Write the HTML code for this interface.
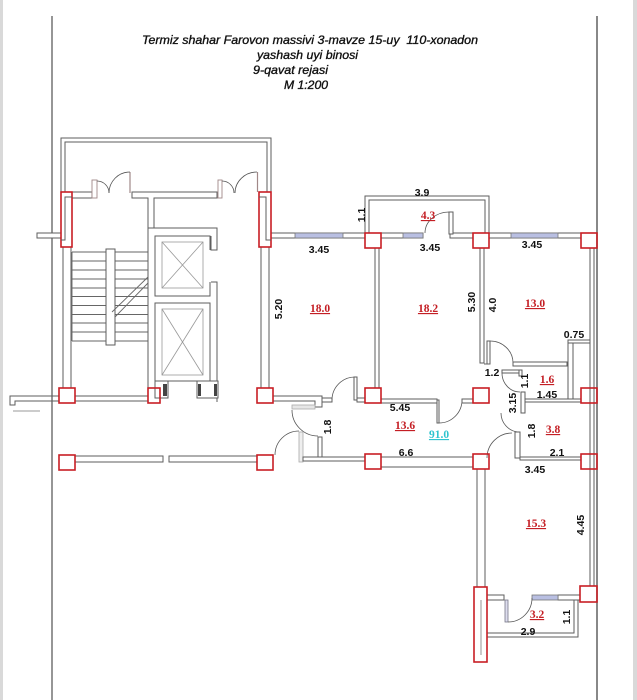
<!DOCTYPE html>
<html><head><meta charset="utf-8"><style>
html,body{margin:0;padding:0;background:#fff;}
svg{display:block;}
.w{fill:#fff;stroke:#5e5e5e;stroke-width:1;}
.l{fill:none;stroke:#5e5e5e;stroke-width:1;}
.a{fill:none;stroke:#555;stroke-width:0.8;}
.p{fill:none;stroke:#c81e24;stroke-width:1.6;}
.win{fill:#b9bfe2;stroke:#777;stroke-width:0.8;}
.t{font-family:"Liberation Sans",Arial,sans-serif;font-weight:bold;font-size:10.5px;fill:#111;text-anchor:middle;}
.r{font-family:"Liberation Serif","Times New Roman",serif;font-weight:bold;font-size:11.5px;fill:#c41e24;text-anchor:middle;text-decoration:underline;}
.c{font-family:"Liberation Serif","Times New Roman",serif;font-weight:bold;font-size:11.5px;fill:#2fc4cf;text-anchor:middle;text-decoration:underline;}
.h{font-family:"Liberation Sans",Arial,sans-serif;font-style:italic;font-size:12px;fill:#111;stroke:#111;stroke-width:0.35;}
</style></head><body>
<svg width="637" height="700" viewBox="0 0 637 700" xmlns="http://www.w3.org/2000/svg">
<rect width="637" height="700" fill="#fff"/>
<rect x="0" y="0" width="3" height="700" fill="#d9d9d9"/>
<rect x="633" y="0" width="4" height="700" fill="#d9d9d9"/>
<line x1="52" y1="16" x2="52" y2="700" stroke="#6a6a6a" stroke-width="1.4"/>
<line x1="597" y1="16" x2="597" y2="700" stroke="#6a6a6a" stroke-width="1.6"/>

<!-- title -->
<text class="h" x="142" y="44" textLength="336" lengthAdjust="spacingAndGlyphs" xml:space="preserve">Termiz shahar Farovon massivi 3-mavze 15-uy  110-xonadon</text>
<text class="h" x="257" y="59" textLength="101" lengthAdjust="spacingAndGlyphs">yashash uyi binosi</text>
<text class="h" x="253" y="74" textLength="75" lengthAdjust="spacingAndGlyphs">9-qavat rejasi</text>
<text class="h" x="284" y="89" textLength="44" lengthAdjust="spacingAndGlyphs">M 1:200</text>

<!-- porch -->
<path class="l" d="M61,192 V138 H271 V192"/>
<path class="l" d="M65,192 V142 H267 V192"/>
<rect class="w" x="72" y="192" width="20" height="6"/>
<rect x="92" y="180" width="5" height="18" fill="#fff" stroke="#a08888" stroke-width="0.9"/>
<path class="w" d="M132,192 H217 V198 H154 V228 H148 V198 H132 Z"/>
<rect x="218" y="180" width="4" height="18" fill="#fff" stroke="#a08888" stroke-width="0.9"/>
<line x1="130" y1="172" x2="130" y2="193" stroke="#a08888" stroke-width="1.2"/>
<line x1="257.5" y1="172" x2="257.5" y2="192" stroke="#a08888" stroke-width="1.2"/>
<path class="a" d="M97,181 A12,12 0 0 1 109,193"/>
<path class="a" d="M130,172 A21,21 0 0 0 109,193"/>
<path class="a" d="M222,181 A12,12 0 0 1 234,193"/>
<path class="a" d="M257,172 A22,21 0 0 0 235,193"/>

<!-- stair walls -->
<rect class="w" x="63" y="247" width="8" height="141"/>
<rect class="w" x="261" y="247" width="8" height="141"/>
<rect class="w" x="37" y="233" width="24" height="5"/>

<!-- stairs -->
<g stroke="#666" stroke-width="0.9">
<line x1="72" y1="252" x2="148" y2="252"/>
<line x1="72" y1="261" x2="148" y2="261"/>
<line x1="72" y1="270" x2="148" y2="270"/>
<line x1="72" y1="279" x2="148" y2="279"/>
<line x1="72" y1="288" x2="148" y2="288"/>
<line x1="72" y1="296.5" x2="148" y2="296.5"/>
<line x1="72" y1="305.5" x2="148" y2="305.5"/>
<line x1="72" y1="314.5" x2="148" y2="314.5"/>
<line x1="72" y1="323" x2="148" y2="323"/>
<line x1="72" y1="332" x2="148" y2="332"/>
<line x1="72" y1="341" x2="148" y2="341"/>
<line x1="72" y1="252" x2="72" y2="341"/>
</g>
<rect class="w" x="106" y="249" width="9" height="96"/>
<line x1="112" y1="312" x2="148" y2="277" stroke="#666" stroke-width="0.9"/>
<line x1="115" y1="317" x2="148" y2="283" stroke="#666" stroke-width="0.9"/>

<!-- elevator shaft -->
<path class="l" d="M148,402 V228 H217 V250 H211 V236"/>
<path class="l" d="M211,282 H217 V402"/>
<path class="l" d="M210,250 V236 H155 V296 H210 V282"/>
<rect class="l" x="155" y="303" width="55" height="78"/>
<g stroke="#999" stroke-width="0.8" fill="none">
<rect x="162" y="242" width="41" height="46"/>
<line x1="162" y1="242" x2="203" y2="288"/><line x1="203" y1="242" x2="162" y2="288"/>
<rect x="162" y="309" width="41" height="66"/>
<line x1="162" y1="309" x2="203" y2="375"/><line x1="203" y1="309" x2="162" y2="375"/>
</g>
<rect class="w" x="155" y="381" width="13" height="17"/>
<rect x="163" y="384" width="4" height="12" fill="#444"/>
<rect class="w" x="197" y="381" width="21" height="17"/>
<rect x="198" y="384" width="3" height="12" fill="#444"/>
<rect x="214" y="384" width="3" height="12" fill="#444"/>

<!-- bottom stair wall -->
<path class="l" d="M59,396 H10 V405 H15 V401 H59"/>
<rect class="w" x="75" y="396" width="73" height="5"/>
<line x1="13" y1="411" x2="40" y2="411" stroke="#bbb" stroke-width="1.5"/>

<!-- landing bottom wall -->
<rect class="w" x="75" y="456" width="88" height="6"/>
<rect class="w" x="169" y="456" width="88" height="6"/>

<!-- apartment top wall -->
<rect class="w" x="271" y="233" width="94" height="5"/>
<rect class="w" x="381" y="233" width="42" height="5"/>
<rect class="w" x="450" y="233" width="23" height="5"/>
<rect class="w" x="489" y="233" width="92" height="5"/>
<rect class="win" x="295" y="233" width="48" height="5"/>
<rect class="win" x="403" y="233" width="20" height="5"/>
<rect class="win" x="511" y="233" width="47" height="5"/>
<!-- balcony 4.3 -->
<path class="l" d="M365,233 V196 H489 V233"/>
<path class="l" d="M369,233 V200 H485 V233"/>
<rect class="w" x="449" y="212" width="4" height="22"/>
<path class="a" d="M449,212 A24,21 0 0 0 425,233"/>

<!-- room dividers -->
<rect class="w" x="375" y="248" width="4" height="140"/>
<rect class="w" x="480" y="248" width="4" height="115"/>
<rect class="w" x="590" y="248" width="4" height="338"/>

<!-- 1.2 / 1.6 area -->
<line x1="484" y1="364" x2="488" y2="364" stroke="#666"/>
<rect class="w" x="487" y="341" width="3" height="23"/>
<path class="a" d="M490,341 A23,22 0 0 1 513,363"/>
<rect class="w" x="513" y="362" width="54" height="4"/>
<rect class="w" x="568" y="340" width="22" height="3"/>
<rect class="w" x="568" y="343" width="5" height="57"/>
<rect class="w" x="502" y="370" width="17" height="3"/>
<rect class="w" x="519" y="370" width="3" height="6"/>
<path class="a" d="M502,373 A18,19 0 0 0 520,392"/>
<rect class="w" x="521" y="392" width="4" height="21"/>
<rect class="w" x="525" y="399" width="56" height="3"/>
<path class="a" d="M501,413 A19,19 0 0 0 518,432"/>
<rect class="w" x="515" y="432" width="5" height="26"/>
<rect class="w" x="520" y="457" width="61" height="3"/>
<path class="a" d="M487,458 A25,25 0 0 1 512,433"/>

<!-- corridor walls -->
<path class="w" d="M273,396 H322 V407 H315 V401 H273 Z"/>
<rect x="292" y="405" width="23" height="4" fill="#e6e6e6" stroke="#aaa" stroke-width="0.8"/>
<path class="a" d="M292,410 A26,26 0 0 0 318,436"/>
<rect class="w" x="318" y="437" width="4" height="20"/>
<rect x="299" y="432" width="4" height="30" fill="#eee" stroke="#aaa" stroke-width="0.8"/>
<path class="a" d="M275,455 A24,24 0 0 1 299,431"/>
<rect class="w" x="303" y="457" width="62" height="4"/>
<rect class="w" x="381" y="457" width="92" height="10"/>
<rect class="w" x="322" y="398" width="10" height="4"/>
<path class="a" d="M332,400 A23,23 0 0 1 355,377"/>
<rect class="w" x="354" y="377" width="3" height="23"/>
<rect class="w" x="357" y="398" width="8" height="4"/>
<rect class="w" x="381" y="399" width="56" height="4"/>
<rect class="w" x="437" y="400" width="2" height="23"/>
<path class="a" d="M439,423 A23,23 0 0 0 462,400"/>
<rect class="w" x="462" y="399" width="11" height="4"/>

<!-- 15.3 room -->
<rect class="w" x="477" y="469" width="8" height="118"/>
<!-- balcony 3.2 -->
<rect class="w" x="487" y="595" width="17" height="5"/>
<rect class="w" x="558" y="595" width="22" height="5"/>
<rect class="win" x="532" y="595" width="26" height="5"/>
<rect x="505" y="600" width="3" height="22" fill="#dde" stroke="#778" stroke-width="0.8"/>
<path class="a" d="M508,622 A24,24 0 0 0 532,598"/>
<path class="l" d="M487,637 H578 V600"/>
<path class="l" d="M487,633 H574 V600"/>

<!-- pillars -->
<rect x="61" y="192" width="11" height="55" fill="#fff" class="p"/>
<path class="l" d="M72,197 H65 V240 H61"/>
<rect x="259" y="192" width="12" height="55" fill="#fff" class="p"/>
<path class="l" d="M259,197 H266 V240 H271"/>
<rect class="p" x="365" y="233" width="16" height="15"/>
<rect class="p" x="473" y="233" width="16" height="15"/>
<rect class="p" x="581" y="233" width="16" height="15"/>
<rect class="p" x="59" y="388" width="16" height="15"/>
<rect class="p" x="148" y="388" width="12" height="15"/>
<rect class="p" x="257" y="388" width="16" height="15"/>
<rect class="p" x="365" y="388" width="16" height="15"/>
<rect class="p" x="473" y="388" width="16" height="15"/>
<rect class="p" x="581" y="388" width="16" height="15"/>
<rect class="p" x="59" y="455" width="16" height="15"/>
<rect class="p" x="257" y="455" width="16" height="15"/>
<rect class="p" x="365" y="454" width="16" height="15"/>
<rect class="p" x="473" y="454" width="16" height="15"/>
<rect class="p" x="581" y="454" width="16" height="15"/>
<rect class="p" x="580" y="586" width="17" height="16"/>
<rect x="474" y="587" width="13" height="75" fill="#fff" class="p"/>
<line x1="481" y1="600" x2="481" y2="655" stroke="#888" stroke-width="0.9"/>

<!-- dimension labels -->
<text class="t" x="422" y="196">3.9</text>
<text class="t" x="319" y="253">3.45</text>
<text class="t" x="430" y="251">3.45</text>
<text class="t" x="532" y="248">3.45</text>
<text class="t" x="574" y="338">0.75</text>
<text class="t" x="492" y="376">1.2</text>
<text class="t" x="547" y="398">1.45</text>
<text class="t" x="400" y="411">5.45</text>
<text class="t" x="406" y="456">6.6</text>
<text class="t" x="557" y="456">2.1</text>
<text class="t" x="535" y="473">3.45</text>
<text class="t" x="528" y="635">2.9</text>
<text class="t" transform="translate(362,215) rotate(-90)" dominant-baseline="central">1.1</text>
<text class="t" transform="translate(279,309) rotate(-90)" dominant-baseline="central">5.20</text>
<text class="t" transform="translate(472,302) rotate(-90)" dominant-baseline="central">5.30</text>
<text class="t" transform="translate(493,305) rotate(-90)" dominant-baseline="central">4.0</text>
<text class="t" transform="translate(525,381) rotate(-90)" dominant-baseline="central">1.1</text>
<text class="t" transform="translate(328,427) rotate(-90)" dominant-baseline="central">1.8</text>
<text class="t" transform="translate(513,403) rotate(-90)" dominant-baseline="central">3.15</text>
<text class="t" transform="translate(532,431) rotate(-90)" dominant-baseline="central">1.8</text>
<text class="t" transform="translate(581,525) rotate(-90)" dominant-baseline="central">4.45</text>
<text class="t" transform="translate(567,617) rotate(-90)" dominant-baseline="central">1.1</text>

<!-- area labels -->
<text class="r" x="428" y="219">4.3</text>
<text class="r" x="320" y="312">18.0</text>
<text class="r" x="428" y="312">18.2</text>
<text class="r" x="535" y="307">13.0</text>
<text class="r" x="547" y="383">1.6</text>
<text class="r" x="405" y="429">13.6</text>
<text class="r" x="553" y="433">3.8</text>
<text class="r" x="536" y="527">15.3</text>
<text class="r" x="537" y="618">3.2</text>
<text class="c" x="439" y="438">91.0</text>
</svg>
</body></html>
